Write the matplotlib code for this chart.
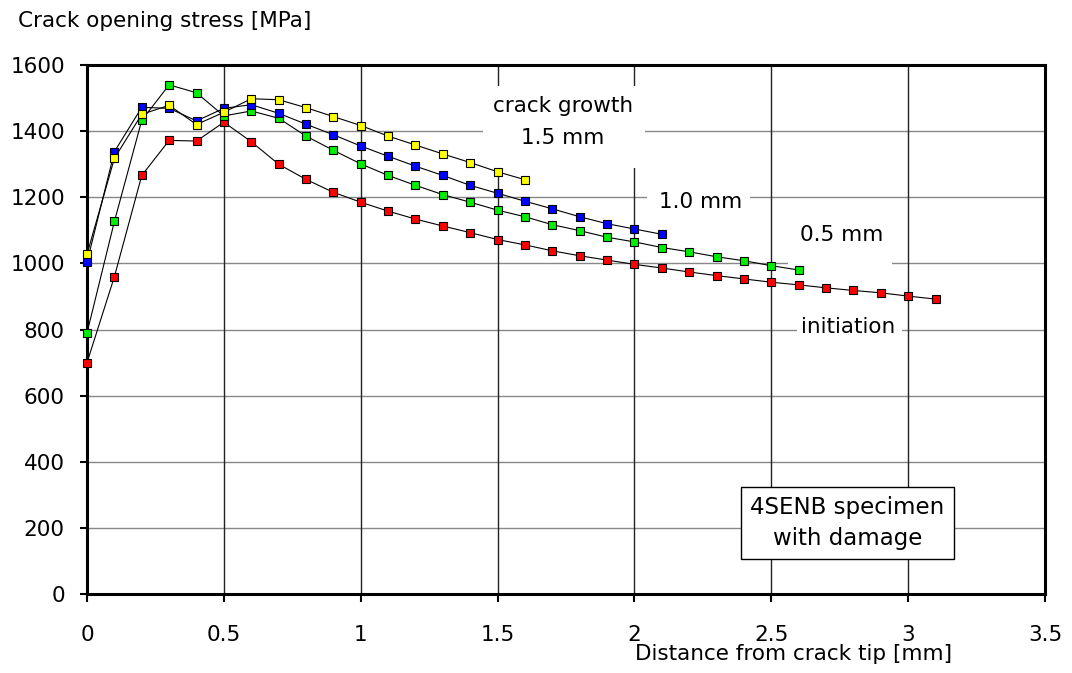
import matplotlib
matplotlib.use("Agg")
import matplotlib.pyplot as plt
from matplotlib.patches import Rectangle

plt.rcParams["font.family"] = ["DejaVu Sans"]

# distances from crack tip [mm], 0.1 mm steps
x_init = [0.0, 0.1, 0.2, 0.3, 0.4, 0.5, 0.6, 0.7, 0.8, 0.9, 1.0, 1.1, 1.2, 1.3, 1.4, 1.5,
          1.6, 1.7, 1.8, 1.9, 2.0, 2.1, 2.2, 2.3, 2.4, 2.5, 2.6, 2.7, 2.8, 2.9, 3.0, 3.1]
x_05 = x_init[:27]
x_10 = x_init[:22]
x_15 = x_init[:17]

# crack opening stress [MPa]
s_init = [700, 960, 1266, 1372, 1370, 1427, 1368, 1300, 1254, 1215, 1185, 1158, 1134, 1113,
          1093, 1072, 1056, 1038, 1023, 1010, 997, 986, 974, 963, 953, 943, 935, 926, 918,
          911, 901, 892]
s_05 = [790, 1127, 1433, 1540, 1516, 1446, 1461, 1439, 1385, 1342, 1301, 1266, 1236, 1208,
        1185, 1161, 1141, 1117, 1099, 1079, 1065, 1048, 1035, 1020, 1008, 993, 980]
s_10 = [1004, 1338, 1472, 1469, 1431, 1469, 1480, 1454, 1421, 1389, 1355, 1324, 1294, 1266,
        1236, 1212, 1188, 1165, 1141, 1120, 1104, 1088]
s_15 = [1028, 1318, 1451, 1478, 1420, 1457, 1498, 1495, 1471, 1444, 1417, 1385, 1358, 1331,
        1305, 1277, 1253]

FS = 15.5

fig = plt.figure(figsize=(10.72, 6.73), dpi=100)
ax = fig.add_axes([0.0812, 0.1174, 0.8936, 0.786])

series = [(x_init, s_init, "#ff0000"), (x_05, s_05, "#00ee00"),
          (x_10, s_10, "#0000ff"), (x_15, s_15, "#ffff00")]
for xs, ys, c in series:
    ax.plot(xs, ys, color="black", lw=0.8, marker="s", ms=5.6, clip_on=False,
            markerfacecolor=c, markeredgecolor="black", markeredgewidth=0.8, zorder=5)

ax.set_xlim(0, 3.5)
ax.set_ylim(0, 1600)
ax.set_xticks([0, 0.5, 1, 1.5, 2, 2.5, 3, 3.5])
ax.set_xticklabels(["0", "0.5", "1", "1.5", "2", "2.5", "3", "3.5"])
ax.set_yticks(range(0, 1601, 200))

for y in range(200, 1600, 200):
    ax.axhline(y, color="#888888", lw=1.0, zorder=1)
for x in [0.5, 1, 1.5, 2, 2.5, 3]:
    ax.axvline(x, color="#222222", lw=1.0, zorder=1)

for sp in ax.spines.values():
    sp.set_linewidth(2.2)
    sp.set_color("black")
    sp.set_zorder(4)

ax.tick_params(axis="both", labelsize=FS, direction="out", width=1.5, colors="black")
ax.tick_params(axis="x", length=6, pad=16)
ax.tick_params(axis="y", length=5, pad=11)

fig.text(0.0168, 0.969, "Crack opening stress [MPa]", fontsize=FS, ha="left", va="center")
ax.set_xlabel("Distance from crack tip [mm]", fontsize=FS)
ax.xaxis.set_label_coords(0.738, -0.094)

# white patches behind the curve labels, hiding the grid
ax.add_patch(Rectangle((1.447, 1290), 0.592, 248, facecolor="white", edgecolor="none", zorder=2))
ax.add_patch(Rectangle((2.046, 1145), 0.377, 80, facecolor="white", edgecolor="none", zorder=2))
ax.add_patch(Rectangle((2.561, 985), 0.380, 195, facecolor="white", edgecolor="none", zorder=2))
ax.add_patch(Rectangle((2.594, 770), 0.384, 80, facecolor="white", edgecolor="none", zorder=2))

lab = dict(fontsize=FS, ha="center", va="center", zorder=3)
ax.text(1.739, 1476, "crack growth", **lab)
ax.text(1.739, 1379, "1.5 mm", **lab)
ax.text(2.24, 1186, "1.0 mm", **lab)
ax.text(2.758, 1086, "0.5 mm", **lab)
ax.text(2.781, 808, "initiation", **lab)

ax.text(2.778, 215, "4SENB specimen\nwith damage", fontsize=16.5, ha="center", va="center",
        linespacing=1.45, zorder=6,
        bbox=dict(facecolor="white", edgecolor="black", lw=1.0, boxstyle="square,pad=0.4"))

fig.savefig("out.png", dpi=100)
